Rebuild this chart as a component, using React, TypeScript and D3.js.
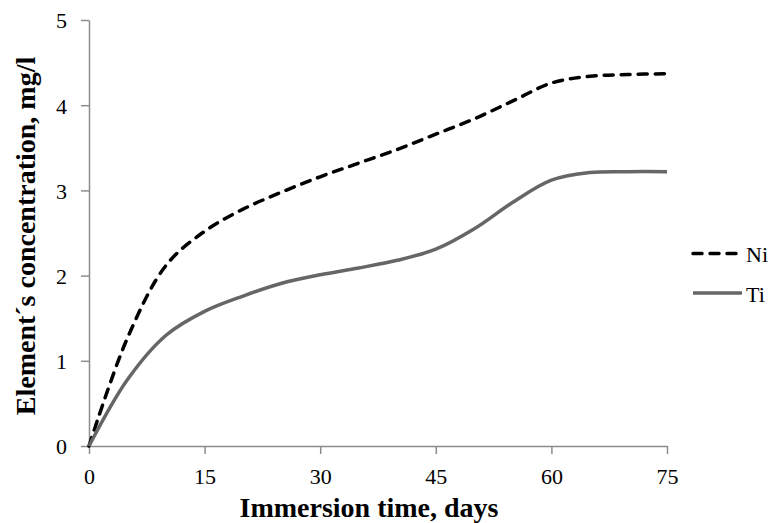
import React, { useEffect, useRef } from "react";
import * as d3 from "d3";

// immersion time (days) and concentrations
const days = [0, 5, 10, 15, 20, 25, 30, 35, 40, 45, 50, 55, 60, 65, 70, 75];
const niValues = [0, 1.27, 2.12, 2.52, 2.78, 2.98, 3.16, 3.32, 3.48, 3.66, 3.84, 4.05, 4.26, 4.34, 4.36, 4.37];
const tiValues = [0, 0.78, 1.3, 1.58, 1.76, 1.91, 2.01, 2.09, 2.18, 2.31, 2.55, 2.86, 3.12, 3.21, 3.22, 3.22];
const xTicks = [0, 15, 30, 45, 60, 75];
const yTicks = [0, 1, 2, 3, 4, 5];
const seriesNames = ["Ni", "Ti"];

const App = () => {
  const ref = useRef<SVGSVGElement>(null);

  useEffect(() => {
    const width = 775;
    const height = 523;
    const font = "'Liberation Serif', 'Times New Roman', serif";
    const axisColor = "#8c8c8c";

    const svg = d3.select(ref.current).attr("width", width).attr("height", height);
    svg.selectAll("*").remove();

    const x = d3.scaleLinear().domain([0, 75]).range([89, 667]);
    const y = d3.scaleLinear().domain([0, 5]).range([446, 20]);

    // axes
    const xAxis = svg
      .append("g")
      .attr("transform", `translate(0,${y(0)})`)
      .call(d3.axisBottom(x).tickValues(xTicks).tickFormat(d3.format("d")).tickSize(8).tickPadding(14).tickSizeOuter(0));
    const yAxis = svg
      .append("g")
      .attr("transform", `translate(${x(0)},0)`)
      .call(d3.axisLeft(y).tickValues(yTicks).tickFormat(d3.format("d")).tickSize(8).tickPadding(14).tickSizeOuter(0));

    [xAxis, yAxis].forEach((a) => {
      a.select(".domain").attr("stroke", axisColor).attr("stroke-width", 1.5);
      a.selectAll(".tick line").attr("stroke", axisColor).attr("stroke-width", 1.5);
      a.selectAll(".tick text")
        .attr("fill", "#000")
        .attr("font-family", font)
        .attr("font-size", "22px");
    });
    yAxis.selectAll(".tick text").attr("dy", "0.36em");

    // lines
    const series = [
      { name: seriesNames[0], values: niValues, color: "#000", width: 3.5, dash: "9,8" },
      { name: seriesNames[1], values: tiValues, color: "#666", width: 3.5, dash: null },
    ];

    const line = d3
      .line<number>()
      .x((_, i) => x(days[i]))
      .y((d) => y(d))
      .curve(d3.curveCatmullRom.alpha(0.5));

    series.forEach((s) => {
      svg
        .append("path")
        .datum(s.values)
        .attr("d", line)
        .attr("fill", "none")
        .attr("stroke", s.color)
        .attr("stroke-width", s.width)
        .attr("stroke-linecap", s.dash ? "round" : "butt")
        .attr("stroke-dasharray", s.dash);
    });

    // legend
    const legendY = [253.5, 293];
    series.forEach((s, i) => {
      svg
        .append("line")
        .attr("x1", 693)
        .attr("x2", s.dash ? 737 : 742)
        .attr("y1", legendY[i])
        .attr("y2", legendY[i])
        .attr("stroke", s.color)
        .attr("stroke-width", s.width)
        .attr("stroke-linecap", s.dash ? "round" : "butt")
        .attr("stroke-dasharray", s.dash);
      svg
        .append("text")
        .attr("x", 746)
        .attr("y", legendY[i] + 8.5)
        .attr("font-family", font)
        .attr("font-size", "22px")
        .attr("fill", "#000")
        .text(s.name);
    });

    // axis titles
    svg
      .append("text")
      .attr("x", 369)
      .attr("y", 517)
      .attr("text-anchor", "middle")
      .attr("font-family", font)
      .attr("font-weight", "bold")
      .attr("font-size", "28px")
      .text("Immersion time, days");

    svg
      .append("text")
      .attr("transform", "translate(35,236) rotate(-90)")
      .attr("text-anchor", "middle")
      .attr("font-family", font)
      .attr("font-weight", "bold")
      .attr("font-size", "28px")
      .text("Element´s concentration, mg/l");
  }, []);

  return (
    <div style={{ position: "absolute", left: 0, top: 0, background: "#fff" }}>
      <svg ref={ref} style={{ display: "block" }}></svg>
    </div>
  );
};

export default App;
